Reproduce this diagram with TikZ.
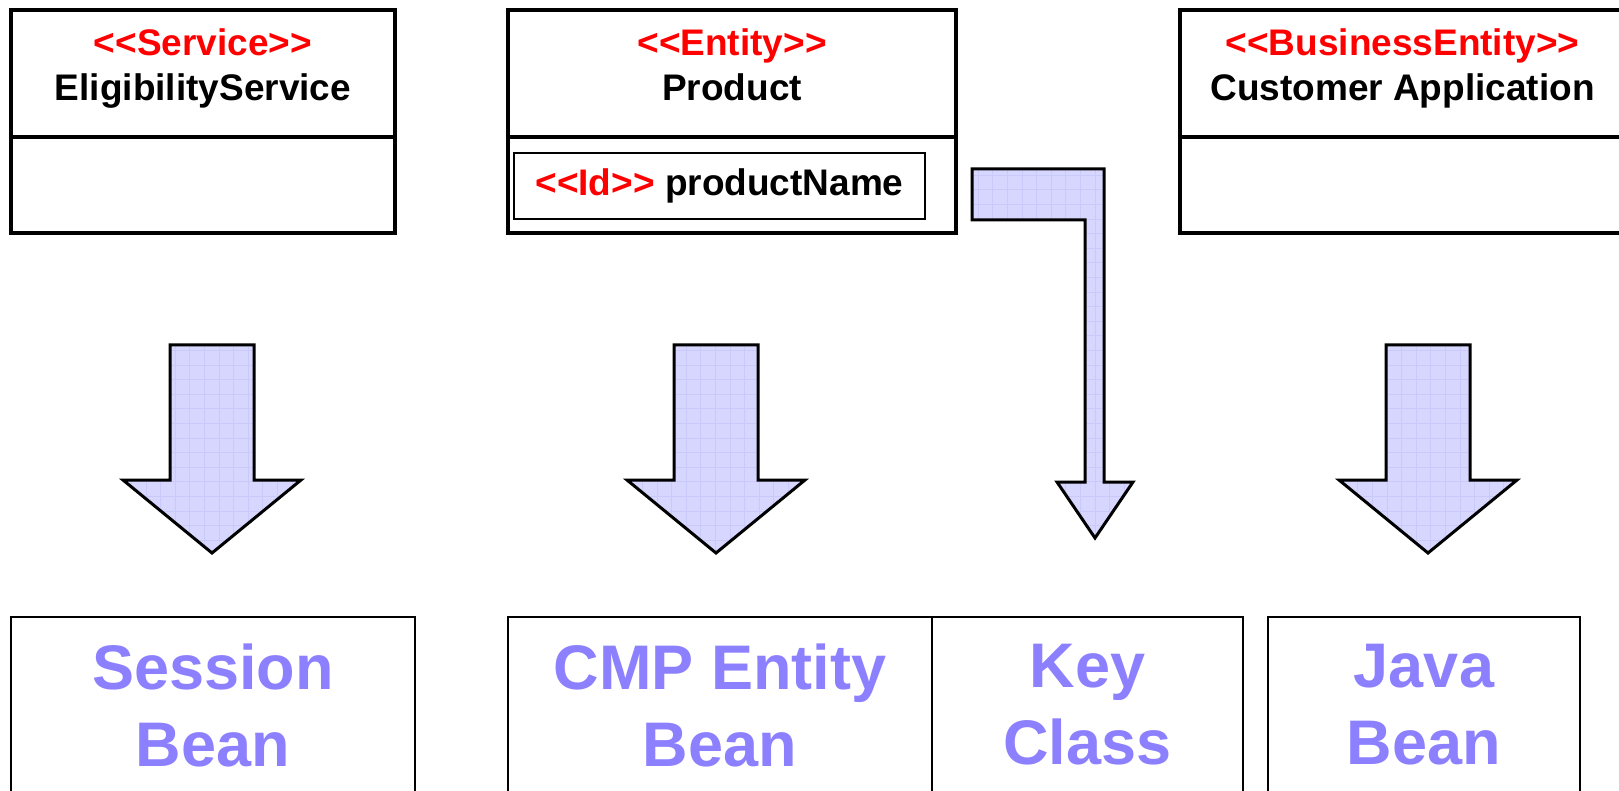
\documentclass[tikz,border=0pt]{standalone}
\usepackage{fontspec}
\setmainfont{Liberation Sans}
\usetikzlibrary{positioning}
\definecolor{umlred}{rgb}{1,0,0}
\definecolor{beanblue}{rgb}{0.55,0.5,1}
\definecolor{arrowfill}{rgb}{0.84,0.84,1}
\definecolor{arrowgrid}{rgb}{0.79,0.79,0.98}
\newcommand{\stereo}[1]{\textcolor{umlred}{<\kern0pt<#1>\kern0pt>}}

\begin{document}
\begin{tikzpicture}[x = 1pt, y = -1pt, node distance = 0pt]
  \useasboundingbox (0,0) rectangle (1619,791);
  \tikzset{HeadStyle/.style  = {draw,
                                rectangle,
                                line width     = 4pt,
                                outer sep      = 0pt,
                                inner sep      = 0pt,
                                minimum height = 127pt}}
  \tikzset{BodyStyle/.style  = {HeadStyle,
                                minimum height = 96pt}}
  \tikzset{NameStyle/.style  = {font           = \fontsize{37}{45}\selectfont\bfseries,
                                align          = center,
                                inner sep      = 0pt}}
  \tikzset{IdStyle/.style    = {draw,
                                line width     = 2pt,
                                inner sep      = 0pt,
                                font           = \fontsize{37}{45}\selectfont\bfseries}}
  \tikzset{BlockStyle/.style = {draw,
                                line width     = 3pt,
                                line join      = miter,
                                fill           = arrowfill,
                                path picture   = {\draw[arrowgrid, line width=0.8pt, step=14.6pt]
                                  (path picture bounding box.south west) grid
                                  (path picture bounding box.north east);}}}
  \tikzset{BeanStyle/.style  = {draw,
                                line width     = 2pt,
                                outer sep      = 0pt,
                                minimum height = 200pt,
                                anchor         = north west}}
  \tikzset{BeanText/.style   = {text           = beanblue,
                                font           = \fontsize{63}{77}\selectfont\bfseries,
                                align          = center,
                                inner sep      = 0pt}}
     % UML classes
     \node[HeadStyle, minimum width=384pt, anchor=north west](ServiceHead) at (11,10) {};
     \node[BodyStyle, minimum width=384pt, below=of ServiceHead](ServiceBody) {};
     \node[NameStyle, below=18pt of ServiceHead.north](ServiceName)
          {\stereo{Service}\\EligibilityService};
     \node[HeadStyle, minimum width=448pt, anchor=north west](ProductHead) at (508,10) {};
     \node[BodyStyle, minimum width=448pt, below=of ProductHead](ProductBody) {};
     \node[NameStyle, below=18pt of ProductHead.north](ProductName)
          {\stereo{Entity}\\Product};
     \node[IdStyle, minimum width=411pt, minimum height=66pt](ProductId) at (719.5,186)
          {\stereo{Id} productName};
     \node[HeadStyle, minimum width=445pt, anchor=north west](CustomerHead) at (1180,10) {};
     \node[BodyStyle, minimum width=445pt, below=of CustomerHead](CustomerBody) {};
     \node[NameStyle, below=18pt of CustomerHead.north](CustomerName)
          {\stereo{BusinessEntity}\\Customer Application};
     % mapping arrows
     \foreach \x in {212,716,1428}
       \draw[BlockStyle] (\x-42,345) -- (\x+42,345) -- (\x+42,480) -- (\x+89,480)
                         -- (\x,553) -- (\x-89,480) -- (\x-42,480) -- cycle;
     \draw[BlockStyle] (972,169) -- (1104,169) -- (1104,482) -- (1133,482) -- (1095,538)
                       -- (1057,482) -- (1085,482) -- (1085,220) -- (972,220) -- cycle;
     % generated artefacts
     \node[BeanStyle, minimum width=404pt](SessionBox) at (11,617) {};
     \node[BeanStyle, minimum width=424pt](CmpBox) at (508,617) {};
     \node[BeanStyle, minimum width=311pt, right=of CmpBox](KeyBox) {};
     \node[BeanStyle, minimum width=312pt](JavaBox) at (1268,617) {};
     \node[BeanText, below=27pt of SessionBox.north](SessionText) {Session\\Bean};
     \node[BeanText, below=27pt of CmpBox.north](CmpText) {CMP Entity\\Bean};
     \node[BeanText, below=27pt of KeyBox.north](KeyText) {Key\\Class};
     \node[BeanText, below=27pt of JavaBox.north](JavaText) {Java\\Bean};
  \end{tikzpicture}
\end{document}
